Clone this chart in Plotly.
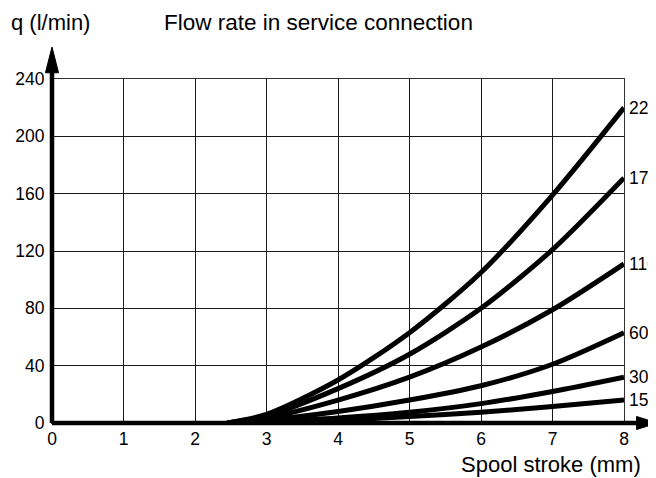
import plotly.graph_objects as go

# ---- data ----
stroke_mm = [2.45, 3, 4, 5, 6, 7, 8]
flow_220 = [0, 6, 30, 63, 105, 159, 220]
flow_170 = [0, 5, 24, 48, 80, 121, 171]
flow_110 = [0, 3.5, 16, 32, 53, 79, 111]
flow_60 = [0, 2, 8, 16, 26, 41, 63]
flow_30 = [0, 1, 3.5, 7.5, 13.5, 22, 32]
flow_15 = [0, 0.5, 2, 4.5, 7.5, 11.5, 16]
series = [("220", flow_220), ("170", flow_170), ("110", flow_110),
          ("60", flow_60), ("30", flow_30), ("15", flow_15)]

x_ticks = [0, 1, 2, 3, 4, 5, 6, 7, 8]
y_ticks = [0, 40, 80, 120, 160, 200, 240]

FONT = "Liberation Sans, Arial, Helvetica, sans-serif"

fig = go.Figure()
for name, vals in series:
    fig.add_trace(go.Scatter(
        x=stroke_mm, y=vals, mode="lines", name=name,
        line=dict(color="black", width=5, shape="spline", smoothing=0.8),
        cliponaxis=False, showlegend=False, hoverinfo="skip"))
    fig.add_annotation(x=stroke_mm[-1], y=vals[-1], xref="x", yref="y",
                       text=name, showarrow=False, xanchor="left",
                       yanchor="middle", xshift=3,
                       font=dict(size=17.5, color="black", family=FONT))

axis_common = dict(showgrid=True, gridcolor="#1a1a1a", gridwidth=1,
                   zeroline=False, showline=True, mirror=True,
                   linecolor="#333", linewidth=1, ticks="outside",
                   tickcolor="rgba(0,0,0,0)", automargin=False,
                   tickfont=dict(size=17.5, color="black", family=FONT),
                   fixedrange=True)

# page body has an 8px margin, so the figure is 8px smaller and shifted
fig.update_layout(
    width=648, height=470,
    margin=dict(l=44, r=32, t=71, b=55),
    paper_bgcolor="white", plot_bgcolor="white",
    font=dict(family=FONT, color="black"),
    xaxis=dict(range=[0, 8], tickvals=x_ticks, ticklen=0.1, **axis_common),
    yaxis=dict(range=[0, 240], tickvals=y_ticks, ticklen=3, **axis_common),
)

# thick axes with arrowheads
fig.add_shape(type="line", xref="paper", yref="paper", x0=0, y0=0, x1=1.025, y1=0,
              line=dict(color="black", width=4.5))
fig.add_shape(type="line", xref="paper", yref="paper", x0=0, y0=0, x1=0, y1=1.022,
              line=dict(color="black", width=4.5))
fig.add_shape(type="path", xref="paper", yref="paper",
              path="M -0.0115 1.018 L 0.0115 1.018 L 0 1.093 Z",
              fillcolor="black", line=dict(color="black", width=1))
fig.add_shape(type="path", xref="paper", yref="paper",
              path="M 1.022 -0.019 L 1.022 0.019 L 1.058 0 Z",
              fillcolor="black", line=dict(color="black", width=1))

# texts
fig.add_annotation(xref="paper", yref="paper", x=-0.075, y=1.163,
                   text="q (l/min)", showarrow=False, xanchor="left", yanchor="middle",
                   font=dict(size=22, color="black", family=FONT))
fig.add_annotation(xref="paper", yref="paper", x=0.192, y=1.163,
                   text="Flow rate in service connection", showarrow=False,
                   xanchor="left", yanchor="middle",
                   font=dict(size=22.5, color="black", family=FONT))
fig.add_annotation(xref="paper", yref="paper", x=1.034, y=-0.122,
                   text="Spool stroke (mm)", showarrow=False,
                   xanchor="right", yanchor="middle",
                   font=dict(size=22, color="black", family=FONT))

fig.write_html("out.html")
